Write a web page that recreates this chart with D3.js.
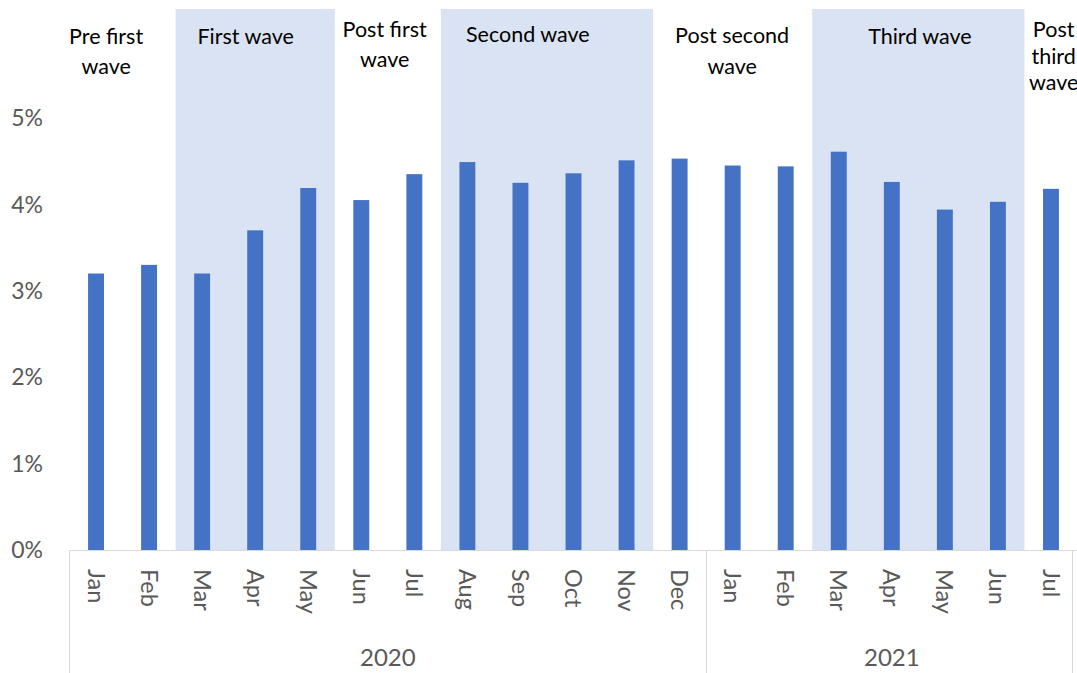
<!DOCTYPE html>
<html>
<head>
<meta charset="utf-8">
<script src="https://cdn.jsdelivr.net/npm/d3@7/dist/d3.min.js"></script>
<style>
  body { margin: 0; background: #fff; }
  svg text { font-family: Lato, "Open Sans", sans-serif; }
  .tick-label { fill: #595959; font-size: 23px; }
  .month-label { fill: #595959; font-size: 23.5px; }
  .year-label { fill: #595959; font-size: 24px; }
  .phase-label { fill: #000; font-size: 21.5px; }
</style>
</head>
<body>
<div id="chart-area"></div>
<script>
const months = ["Jan", "Feb", "Mar", "Apr", "May", "Jun", "Jul", "Aug", "Sep", "Oct", "Nov", "Dec",
  "Jan", "Feb", "Mar", "Apr", "May", "Jun", "Jul"];
const monthYear = [2020, 2020, 2020, 2020, 2020, 2020, 2020, 2020, 2020, 2020, 2020, 2020,
  2021, 2021, 2021, 2021, 2021, 2021, 2021];
const values = [0.032, 0.033, 0.032, 0.037, 0.0419, 0.0405, 0.0435, 0.0449, 0.0425, 0.0436, 0.0451, 0.0453,
  0.0445, 0.0444, 0.0461, 0.0426, 0.0394, 0.0403, 0.0418];
const yTicks = [0, 0.01, 0.02, 0.03, 0.04, 0.05];

const phaseNames = [["Pre first", "wave"], ["First wave"], ["Post first", "wave"], ["Second wave"],
  ["Post second", "wave"], ["Third wave"], ["Post", "third", "wave"]];
const phaseFirst = [0, 2, 5, 7, 11, 14, 18];
const phaseLast = [1, 4, 6, 10, 13, 17, 18];
const phaseShaded = [false, true, false, true, false, true, false];

// where each phase text sits (month position, first baseline, line step)
const labelAt = [0.19, 2.82, 5.44, 8.14, 11.99, 15.53, 18.05];
const labelTop = [44, 44, 37, 42, 43, 44, 37];
const labelStep = [30, 30, 30, 30, 31, 30, 26.5];

const chartSize = { width: 1077, height: 673 };
const plot = { left: 69.5, right: 1077.5, top: 9, zero: 550, five: 118 };

const svg = d3.select("#chart-area")
  .append("svg")
  .attr("width", chartSize.width)
  .attr("height", chartSize.height);

const x = d3.scaleBand()
  .domain(d3.range(months.length))
  .range([plot.left, plot.right])
  .paddingInner(0.7)
  .paddingOuter(0.35);

const step = x.step();
const bandStart = i => x(i) - x.paddingInner() * step / 2;
const center = i => x(i) + x.bandwidth() / 2;

const y = d3.scaleLinear()
  .domain([0, 0.05])
  .range([plot.zero, plot.five]);

// shaded wave periods
svg.append("g")
  .selectAll("rect")
  .data(d3.range(phaseNames.length).filter(i => phaseShaded[i]))
  .join("rect")
  .attr("x", i => bandStart(phaseFirst[i]))
  .attr("width", i => bandStart(phaseLast[i] + 1) - bandStart(phaseFirst[i]))
  .attr("y", plot.top)
  .attr("height", plot.zero - plot.top)
  .attr("fill", "#dae3f3");

// y tick labels
svg.append("g")
  .selectAll("text")
  .data(yTicks)
  .join("text")
  .attr("class", "tick-label")
  .attr("x", 43)
  .attr("y", d => y(d))
  .attr("dy", "0.36em")
  .attr("text-anchor", "end")
  .text(d3.format(".0%"));

// bars
svg.append("g")
  .selectAll("rect")
  .data(values)
  .join("rect")
  .attr("x", (d, i) => x(i))
  .attr("width", x.bandwidth())
  .attr("y", d => y(d))
  .attr("height", d => y(0) - y(d))
  .attr("fill", "#4472c4");

// category axis
const axis = svg.append("g").attr("stroke", "#d9d9d9").attr("stroke-width", 1);
axis.append("line")
  .attr("x1", plot.left).attr("x2", plot.right)
  .attr("y1", plot.zero + 0.5).attr("y2", plot.zero + 0.5);

const years = Array.from(new Set(monthYear));
const yearFirst = years.map(yr => monthYear.indexOf(yr));
const yearEdges = yearFirst.map(i => bandStart(i)).concat([plot.right - 5.5]);

axis.selectAll(".divider")
  .data(yearEdges)
  .join("line")
  .attr("class", "divider")
  .attr("x1", d => Math.round(d) + 0.5).attr("x2", d => Math.round(d) + 0.5)
  .attr("y1", plot.zero).attr("y2", chartSize.height);

svg.append("g")
  .selectAll("text")
  .data(months)
  .join("text")
  .attr("class", "month-label")
  .attr("transform", (d, i) => `translate(${center(i)},569) rotate(90)`)
  .attr("dy", "0.36em")
  .text(d => d);

svg.append("g")
  .selectAll("text")
  .data(years)
  .join("text")
  .attr("class", "year-label")
  .attr("x", (d, i) => (yearEdges[i] + (i === years.length - 1 ? plot.right : yearEdges[i + 1])) / 2)
  .attr("y", 666)
  .attr("text-anchor", "middle")
  .text(d => d);

// phase labels
const posX = d3.scaleLinear().domain([0, 1]).range([center(0), center(1)]);
const phases = svg.append("g");
phaseNames.forEach((lines, i) => {
  const t = phases.append("text")
    .attr("class", "phase-label")
    .attr("text-anchor", "middle")
    .attr("x", posX(labelAt[i]))
    .attr("y", labelTop[i]);
  lines.forEach((line, j) => {
    t.append("tspan")
      .attr("x", posX(labelAt[i]))
      .attr("y", labelTop[i] + j * labelStep[i])
      .text(line);
  });
});
</script>
</body>
</html>
